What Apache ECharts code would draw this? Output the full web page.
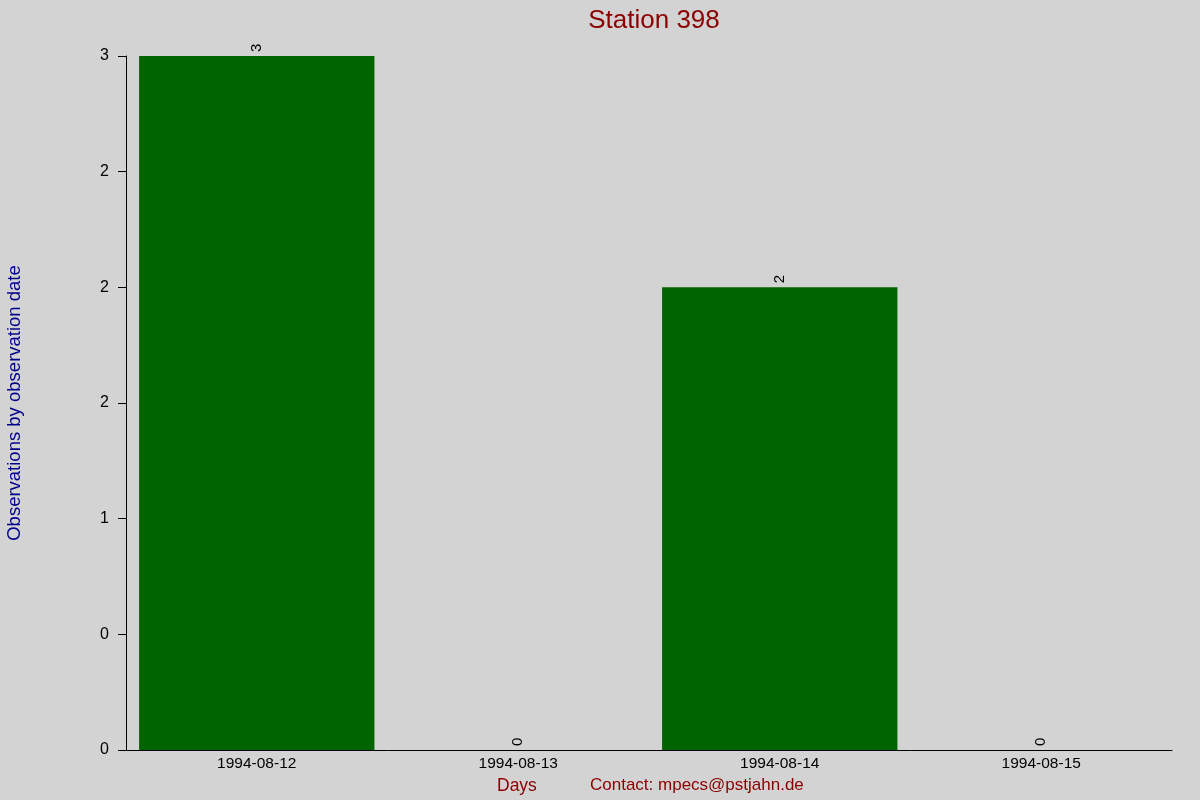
<!DOCTYPE html>
<html>
<head>
<meta charset="utf-8">
<script src="https://cdn.jsdelivr.net/npm/echarts@6/dist/echarts.min.js"></script>
<style>html,body{margin:0;padding:0;background:#d3d3d3;}#c{width:1200px;height:800px;}</style>
</head>
<body>
<div id="c"></div>
<script>
const categories = ['1994-08-12', '1994-08-13', '1994-08-14', '1994-08-15'];
const observations = [3, 0, 2, 0];
const yTickValues = [0, 0.5, 1, 1.5, 2, 2.5, 3];
const yTickLabels = ['0', '0', '1', '2', '2', '2', '3'];

const chart = echarts.init(document.getElementById('c'));
const font = 'Liberation Sans, Arial, sans-serif';
chart.setOption({
  backgroundColor: '#d3d3d3',
  animation: false,
  title: {
    text: 'Station 398',
    left: 649, top: 3, textAlign: 'center',
    textStyle: { color: '#8b0000', fontSize: 26, fontWeight: 'normal', fontFamily: font }
  },
  grid: { left: 126, right: 28, top: 56, bottom: 50, containLabel: false, outerBoundsMode: 'none' },
  xAxis: {
    type: 'category',
    data: categories,
    axisLine: { show: true, lineStyle: { color: '#000', width: 1 } },
    axisTick: { show: false },
    axisLabel: { color: '#000', fontSize: 15.5, fontFamily: font, margin: 6 },
    splitLine: { show: false }
  },
  yAxis: {
    type: 'value',
    min: 0, max: 3, interval: 0.5,
    name: 'Observations by observation date',
    nameLocation: 'middle', nameGap: 102, nameRotate: 90,
    nameTextStyle: { color: '#00008b', fontSize: 18.5, fontFamily: font },
    axisLine: { show: true, lineStyle: { color: '#000', width: 1 } },
    axisTick: { show: true, length: 8, lineStyle: { color: '#000' } },
    axisLabel: {
      color: '#000', fontSize: 16, fontFamily: font, margin: 17,
      formatter: function (v) {
        const i = yTickValues.indexOf(v);
        return i >= 0 ? yTickLabels[i] : '';
      }
    },
    splitLine: { show: false }
  },
  series: [{
    type: 'bar',
    data: observations,
    barWidth: '90%',
    itemStyle: { color: '#006400' },
    label: {
      show: true, position: 'top', rotate: 90, distance: 4,
      align: 'left', verticalAlign: 'middle',
      color: '#000', fontSize: 15, fontFamily: font
    }
  }],
  graphic: [
    { type: 'text', left: 497, top: 777, style: { text: 'Days', fill: '#8b0000', font: '17.5px ' + font } },
    { type: 'text', left: 590, top: 777, style: { text: 'Contact: mpecs@pstjahn.de', fill: '#8b0000', font: '17px ' + font } }
  ]
});
</script>
</body>
</html>
